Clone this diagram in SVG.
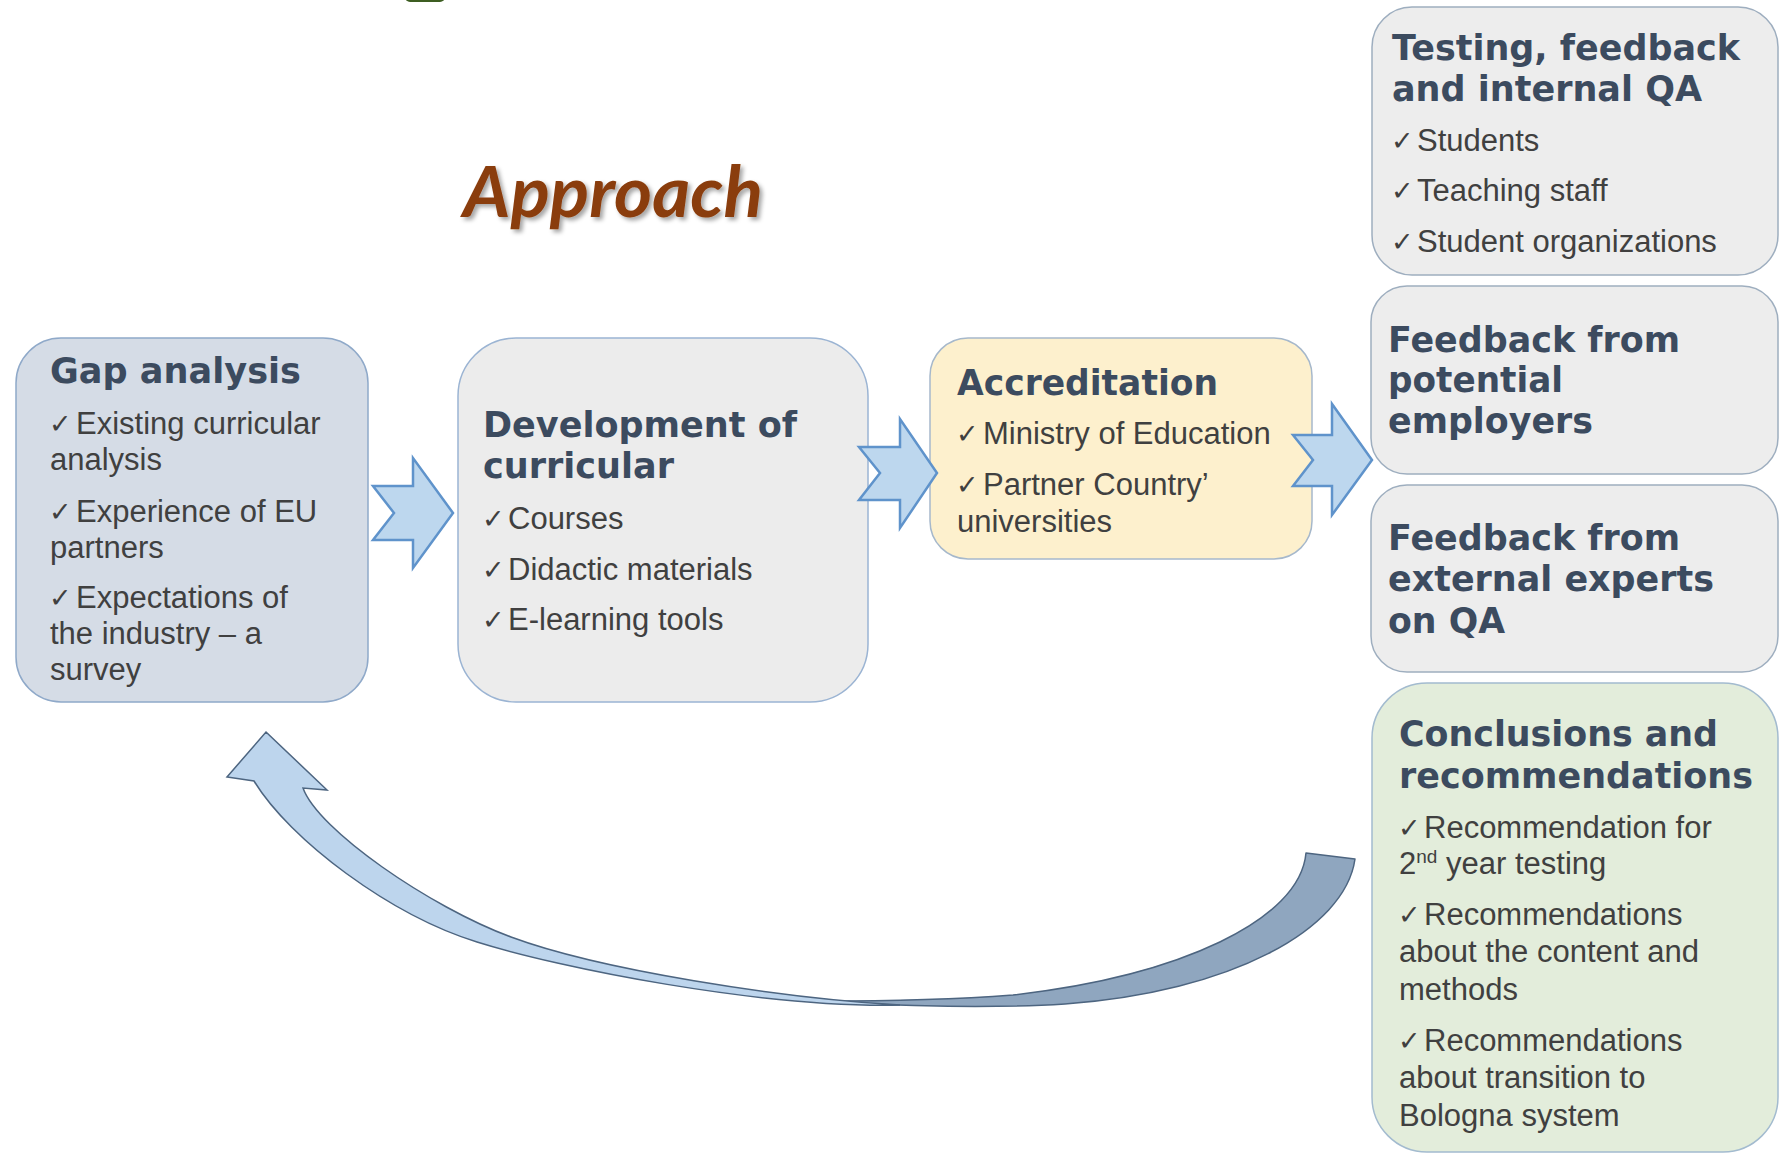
<svg xmlns="http://www.w3.org/2000/svg" width="1780" height="1155" viewBox="0 0 1780 1155">
<defs>
<style>
.ttl{font-family:"DejaVu Sans","Liberation Sans",sans-serif;font-weight:bold;font-size:35px;fill:#3c4b5f}
.bd{font-family:"Liberation Sans",Arial,sans-serif;font-size:31px;fill:#404040}
.ck{font-family:"DejaVu Sans",sans-serif;font-size:27px;fill:#404040}
.box{stroke-width:1.5}
.blk{fill:#bdd7ee;stroke:#5f93cb;stroke-width:2.5;stroke-linejoin:miter}
</style>
<filter id="sh" x="-10%" y="-20%" width="130%" height="150%">
<feDropShadow dx="3" dy="3" stdDeviation="2" flood-color="#000" flood-opacity="0.35"/>
</filter>
</defs>
<rect width="1780" height="1155" fill="#ffffff"/>
<rect x="405" y="-12" width="40" height="14" rx="5" fill="#3d5e22"/>
<text x="463" y="217" font-family="Lato,'Open Sans',sans-serif" font-weight="bold" font-style="italic" font-size="70" fill="#8a3d0e" textLength="300" lengthAdjust="spacingAndGlyphs" filter="url(#sh)">Approach</text>

<g id="gap-analysis">
<rect class="box" x="16" y="338" width="352" height="364" rx="45" fill="#d5dce6" stroke="#8fa9c9"/>
<text class="ttl" x="50" y="383" textLength="251" lengthAdjust="spacingAndGlyphs">Gap analysis</text>
<text class="ck" x="49" y="433">✓</text><text class="bd" x="76" y="434">Existing curricular</text>
<text class="bd" x="50" y="470">analysis</text>
<text class="ck" x="49" y="521">✓</text><text class="bd" x="76" y="522">Experience of EU</text>
<text class="bd" x="50" y="558">partners</text>
<text class="ck" x="49" y="607">✓</text><text class="bd" x="76" y="608">Expectations of</text>
<text class="bd" x="50" y="644">the industry – a</text>
<text class="bd" x="50" y="680">survey</text>
</g>

<g id="development">
<rect class="box" x="458" y="338" width="410" height="364" rx="58" fill="#ececec" stroke="#9bb4d3"/>
<text class="ttl" x="483" y="437" textLength="314" lengthAdjust="spacingAndGlyphs">Development of</text>
<text class="ttl" x="483" y="478" textLength="191" lengthAdjust="spacingAndGlyphs">curricular</text>
<text class="ck" x="482" y="528">✓</text><text class="bd" x="508" y="529">Courses</text>
<text class="ck" x="482" y="579">✓</text><text class="bd" x="508" y="580">Didactic materials</text>
<text class="ck" x="482" y="629">✓</text><text class="bd" x="508" y="630">E-learning tools</text>
</g>

<g id="accreditation">
<rect class="box" x="930" y="338" width="382" height="221" rx="38" fill="#fdf0cd" stroke="#a6b8cb"/>
<text class="ttl" x="957" y="395" textLength="261" lengthAdjust="spacingAndGlyphs">Accreditation</text>
<text class="ck" x="956" y="443">✓</text><text class="bd" x="983" y="444">Ministry of Education</text>
<text class="ck" x="956" y="494">✓</text><text class="bd" x="983" y="495">Partner Country’</text>
<text class="bd" x="957" y="532">universities</text>
</g>

<g id="testing">
<rect class="box" x="1372" y="7" width="406" height="268" rx="40" fill="#ededed" stroke="#9eaebf"/>
<text class="ttl" x="1392" y="60" textLength="348" lengthAdjust="spacingAndGlyphs">Testing, feedback</text>
<text class="ttl" x="1392" y="101" textLength="310" lengthAdjust="spacingAndGlyphs">and internal QA</text>
<text class="ck" x="1391" y="150">✓</text><text class="bd" x="1417" y="151">Students</text>
<text class="ck" x="1391" y="200">✓</text><text class="bd" x="1417" y="201">Teaching staff</text>
<text class="ck" x="1391" y="251">✓</text><text class="bd" x="1417" y="252">Student organizations</text>
</g>

<g id="employers">
<rect class="box" x="1371" y="286" width="407" height="188" rx="36" fill="#ededed" stroke="#9eaebf"/>
<text class="ttl" x="1388" y="352" textLength="292" lengthAdjust="spacingAndGlyphs">Feedback from</text>
<text class="ttl" x="1388" y="392" textLength="175" lengthAdjust="spacingAndGlyphs">potential</text>
<text class="ttl" x="1388" y="433" textLength="205" lengthAdjust="spacingAndGlyphs">employers</text>
</g>

<g id="experts">
<rect class="box" x="1371" y="485" width="407" height="187" rx="36" fill="#ededed" stroke="#9eaebf"/>
<text class="ttl" x="1388" y="550" textLength="292" lengthAdjust="spacingAndGlyphs">Feedback from</text>
<text class="ttl" x="1388" y="591" textLength="326" lengthAdjust="spacingAndGlyphs">external experts</text>
<text class="ttl" x="1388" y="633" textLength="117" lengthAdjust="spacingAndGlyphs">on QA</text>
</g>

<g id="conclusions">
<rect class="box" x="1372" y="683" width="406" height="469" rx="55" fill="#e3eddb" stroke="#a3bbcf"/>
<text class="ttl" x="1399" y="746" textLength="319" lengthAdjust="spacingAndGlyphs">Conclusions and</text>
<text class="ttl" x="1399" y="788" textLength="354" lengthAdjust="spacingAndGlyphs">recommendations</text>
<text class="ck" x="1398" y="837">✓</text><text class="bd" x="1424" y="838">Recommendation for</text>
<text class="bd" x="1399" y="874">2<tspan font-size="19" dy="-11">nd</tspan><tspan dy="11"> year testing</tspan></text>
<text class="ck" x="1398" y="924">✓</text><text class="bd" x="1424" y="925">Recommendations</text>
<text class="bd" x="1399" y="962">about the content and</text>
<text class="bd" x="1399" y="1000">methods</text>
<text class="ck" x="1398" y="1050">✓</text><text class="bd" x="1424" y="1051">Recommendations</text>
<text class="bd" x="1399" y="1088">about transition to</text>
<text class="bd" x="1399" y="1126">Bologna system</text>
</g>

<g id="connectors">
<polygon class="blk" points="373,486 413,486 413,458 453,513 413,568 413,540 373,540 394,513"/>
<polygon class="blk" points="859,447 900,447 900,419 937,473 900,528 900,500 859,500 880,473"/>
<polygon class="blk" points="1293,435 1332,435 1332,404 1372,460 1332,515 1332,486 1293,486 1313,460"/>
<path d="M1306,853 L1355,859 C1345,930 1230,992 1065,1004 C1000,1008 900,1007 820,1001 C880,1001 960,999 1013,995 C1180,976 1300,920 1306,853 Z" fill="#8fa6bf" stroke="#4d6580" stroke-width="1.5" stroke-linejoin="round"/>
<path d="M266,732 L327,790 L303,788 C318,830 430,907 511,937 C600,970 780,998 900,1005 C760,1008 560,968 477,942 C390,915 290,840 254,781 L227,777 Z" fill="#bdd5ed" stroke="#4d6580" stroke-width="1.5" stroke-linejoin="miter"/>
</g>
</svg>
